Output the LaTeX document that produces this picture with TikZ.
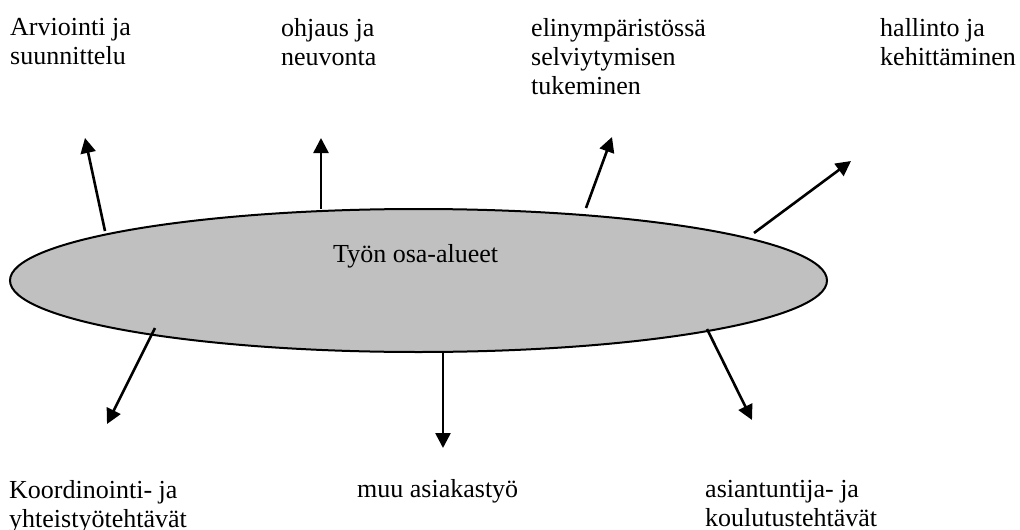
\documentclass[tikz,border=0pt]{standalone}
\usepackage{fontspec}
\setmainfont{Liberation Serif}
\usetikzlibrary{shapes.geometric,arrows.meta}

\definecolor{areafill}{HTML}{C0C0C0}

\tikzset{
  area/.style={ellipse, draw=black, line width=2pt, fill=areafill,
    minimum width=817, minimum height=143, inner sep=0pt},
  lbl/.style={anchor=north west, inner sep=0pt, align=left,
    font=\fontsize{26}{28.8}\selectfont, execute at begin node=\strut},
  ctr/.style={anchor=base west, inner sep=0pt,
    font=\fontsize{26}{28.8}\selectfont},
  pointer/.style={line width=2.6pt,
    -{Triangle[length=15pt,width=15pt]}}
}

\begin{document}
\begin{tikzpicture}[x=1pt,y=-1pt]
  \useasboundingbox (0,0) rectangle (1020,530);

  % central area
  \node[area] (core) at (418.5,280.5) {};
  \node[ctr] (title) at (333,262) {Työn osa-alueet};

  % upper labels
  \node[lbl] (plan)   at (10,18.5)  {Arviointi ja\\suunnittelu};
  \node[lbl] (guide)  at (281,18.5) {ohjaus ja\\neuvonta};
  \node[lbl] (living) at (531,18.5) {elinympäristössä\\selviytymisen\\tukeminen};
  \node[lbl] (admin)  at (880,18.5) {hallinto ja\\kehittäminen};

  % lower labels
  \node[lbl] (coord)  at (9,480)   {Koordinointi- ja\\yhteistyötehtävät};
  \node[lbl] (client) at (357,477) {muu asiakastyö};
  \node[lbl] (expert) at (705,480) {asiantuntija- ja\\koulutustehtävät};

  % arrow start points on the area
  \coordinate (s1) at (105,231);
  \coordinate (s2) at (321,209);
  \coordinate (s3) at (586,208);
  \coordinate (s4) at (754,233);
  \coordinate (s5) at (155,328);
  \coordinate (s6) at (443,352);
  \coordinate (s7) at (707,329);

  % arrow tips
  \coordinate (t1) at (85,138);
  \coordinate (t2) at (321,138);
  \coordinate (t3) at (612,137);
  \coordinate (t4) at (851,161);
  \coordinate (t5) at (107,424);
  \coordinate (t6) at (443,448);
  \coordinate (t7) at (752,420);

  \draw[pointer] (s1) -- (t1);
  \draw[pointer] (s2) -- (t2);
  \draw[pointer] (s3) -- (t3);
  \draw[pointer] (s4) -- (t4);
  \draw[pointer] (s5) -- (t5);
  \draw[pointer] (s6) -- (t6);
  \draw[pointer] (s7) -- (t7);
\end{tikzpicture}
\end{document}
